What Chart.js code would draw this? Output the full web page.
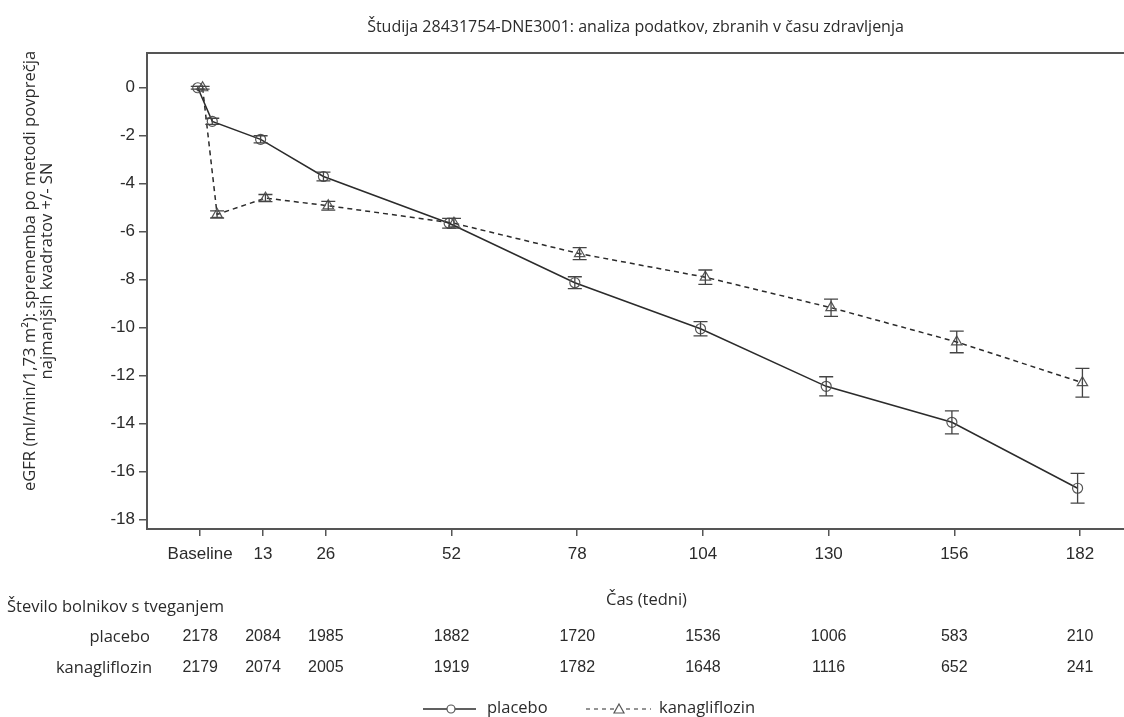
<!DOCTYPE html>
<html><head><meta charset="utf-8">
<script src="https://cdn.jsdelivr.net/npm/chart.js@4.4.1/dist/chart.umd.min.js"></script>
<style>html,body{margin:0;padding:0;background:#fff}#wrap{width:1124px;height:717px;position:relative}</style>
</head><body><div id="wrap"><canvas id="c" width="1124" height="717"></canvas></div>
<script>
const weeks = [0, 3, 13, 26, 52, 78, 104, 130, 156, 182];
const tickWeeks = [0, 13, 26, 52, 78, 104, 130, 156, 182];
const tickLabels = ['Baseline', '13', '26', '52', '78', '104', '130', '156', '182'];
const yTicks = [-18, -16, -14, -12, -10, -8, -6, -4, -2, 0];
const placeboMean = [0, -1.4, -2.15, -3.7, -5.65, -8.13, -10.05, -12.45, -13.95, -16.7];
const placeboSE = [0.06, 0.13, 0.15, 0.18, 0.2, 0.25, 0.3, 0.4, 0.48, 0.62];
const kanaMean = [0, -5.28, -4.6, -4.92, -5.65, -6.92, -7.9, -9.17, -10.6, -12.3];
const kanaSE = [0.06, 0.15, 0.15, 0.18, 0.2, 0.25, 0.3, 0.36, 0.45, 0.6];
const riskWeeks = [0, 13, 26, 52, 78, 104, 130, 156, 182];
const placeboRisk = [2178, 2084, 1985, 1882, 1720, 1536, 1006, 583, 210];
const kanaRisk = [2179, 2074, 2005, 1919, 1782, 1648, 1116, 652, 241];
const seriesNames = ['placebo', 'kanagliflozin'];
const yTitle = ['eGFR (ml/min/1,73 m²): sprememba po metodi povprečja', 'najmanjših kvadratov +/- SN'];

const DODGE = 0.5;
const ARIAL = '"Liberation Sans", Arial, sans-serif';
const HUMAN = '"Open Sans", "Noto Sans", sans-serif';
const INK = '#2b2b2b';
const GREY = '#555';

const pts = (m, off) => weeks.map((w, i) => ({x: w + off, y: m[i]}));

const errorBars = {
  id: 'errorBars',
  afterDatasetsDraw(chart) {
    const ctx = chart.ctx, xs = chart.scales.x, ys = chart.scales.y;
    const ses = [placeboSE, kanaSE];
    ctx.save();
    ctx.strokeStyle = '#444';
    ctx.lineWidth = 1.3;
    chart.data.datasets.forEach((ds, di) => {
      ds.data.forEach((p, i) => {
        const px = xs.getPixelForValue(p.x);
        const t = ys.getPixelForValue(p.y + ses[di][i]);
        const b = ys.getPixelForValue(p.y - ses[di][i]);
        ctx.beginPath();
        ctx.moveTo(px, t); ctx.lineTo(px, b);
        ctx.moveTo(px - 7, t); ctx.lineTo(px + 7, t);
        ctx.moveTo(px - 7, b); ctx.lineTo(px + 7, b);
        ctx.stroke();
      });
    });
    ctx.restore();
  }
};

const extras = {
  id: 'extras',
  afterDraw(chart) {
    const ctx = chart.ctx, xs = chart.scales.x, a = chart.chartArea;
    ctx.save();
    // frame top / right
    ctx.strokeStyle = GREY; ctx.lineWidth = 2;
    ctx.beginPath();
    ctx.moveTo(a.left, a.top); ctx.lineTo(a.right + 2, a.top);
    ctx.stroke();
    // y-axis title
    ctx.fillStyle = INK; ctx.textBaseline = 'middle'; ctx.textAlign = 'center';
    ctx.font = '16.6px ' + HUMAN;
    ctx.save();
    ctx.translate(30, 271); ctx.rotate(-Math.PI / 2);
    ctx.fillText(yTitle[0], 0, 0);
    ctx.fillText(yTitle[1], 0, 17);
    ctx.restore();
    // x-axis title
    ctx.font = '16.5px ' + HUMAN;
    ctx.fillText('Čas (tedni)', (a.left + a.right) / 2 + 11, 600);
    // risk table
    ctx.textAlign = 'left';
    ctx.fillText('Število bolnikov s tveganjem', 7, 607);
    ctx.textAlign = 'right';
    ctx.fillText(seriesNames[0], 150, 637);
    ctx.fillText(seriesNames[1], 152, 668);
    ctx.font = '16px ' + ARIAL; ctx.textAlign = 'center';
    riskWeeks.forEach((w, i) => {
      const px = xs.getPixelForValue(w);
      ctx.fillText(String(placeboRisk[i]), px, 637);
      ctx.fillText(String(kanaRisk[i]), px, 668);
    });
    // legend
    const ly = 709;
    ctx.strokeStyle = INK; ctx.lineWidth = 1.3;
    ctx.beginPath(); ctx.moveTo(423, ly); ctx.lineTo(476, ly); ctx.stroke();
    ctx.fillStyle = '#fff'; ctx.strokeStyle = GREY; ctx.lineWidth = 1.2;
    ctx.beginPath(); ctx.arc(451, ly, 4, 0, Math.PI * 2); ctx.fill(); ctx.stroke();
    ctx.setLineDash([4, 4]); ctx.strokeStyle = INK;
    ctx.beginPath(); ctx.moveTo(586, ly); ctx.lineTo(651, ly); ctx.stroke();
    ctx.setLineDash([]);
    ctx.strokeStyle = GREY; ctx.fillStyle = '#fff';
    ctx.beginPath(); ctx.moveTo(619, ly - 5); ctx.lineTo(624, ly + 4); ctx.lineTo(614, ly + 4); ctx.closePath(); ctx.fill(); ctx.stroke();
    ctx.fillStyle = INK; ctx.font = '16.5px ' + HUMAN; ctx.textAlign = 'left';
    ctx.fillText(seriesNames[0], 487, ly - 1);
    ctx.fillText(seriesNames[1], 659, ly - 1);
    ctx.restore();
  }
};

new Chart(document.getElementById('c'), {
  type: 'line',
  data: {
    datasets: [
      {label: seriesNames[0], data: pts(placeboMean, -DODGE), borderColor: INK, borderWidth: 1.5,
       pointStyle: 'circle', pointRadius: 5, pointBorderColor: GREY, pointBackgroundColor: 'rgba(255,255,255,0)', pointBorderWidth: 1.2, tension: 0},
      {label: seriesNames[1], data: pts(kanaMean, DODGE), borderColor: INK, borderWidth: 1.5, borderDash: [5, 4],
       pointStyle: 'triangle', pointRadius: 6, pointBorderColor: GREY, pointBackgroundColor: 'rgba(255,255,255,0)', pointBorderWidth: 1.2, tension: 0}
    ]
  },
  options: {
    responsive: false, animation: false, devicePixelRatio: 1,
    layout: {autoPadding: false, padding: {left: 0, right: 0, top: 0, bottom: 0}},
    plugins: {
      legend: {display: false}, tooltip: {enabled: false},
      title: {display: true, fullSize: false, text: 'Študija 28431754-DNE3001: analiza podatkov, zbranih v času zdravljenja',
        color: INK, font: {family: HUMAN, size: 16, weight: 'normal', lineHeight: 1.2}, padding: {top: 18, bottom: 15.8}}
    },
    scales: {
      x: {type: 'linear', min: -11, max: 191.1,
        afterBuildTicks: s => { s.ticks = tickWeeks.map(v => ({value: v})); },
        afterFit: s => { s.height = 188; },
        ticks: {autoSkip: false, maxRotation: 0, color: INK, padding: 8, font: {family: ARIAL, size: 17},
          callback: v => tickLabels[tickWeeks.indexOf(v)]},
        grid: {drawOnChartArea: false, drawTicks: true, tickLength: 7, color: GREY, lineWidth: 1.5},
        border: {display: true, color: GREY, width: 2}
      },
      y: {type: 'linear', min: -18.4, max: 1.45,
        afterBuildTicks: s => { s.ticks = yTicks.map(v => ({value: v})); },
        afterFit: s => { s.width = 147; },
        ticks: {color: INK, padding: 4, font: {family: ARIAL, size: 17}},
        grid: {drawOnChartArea: false, drawTicks: true, tickLength: 8, color: GREY, lineWidth: 1.5},
        border: {display: true, color: GREY, width: 2}
      }
    }
  },
  plugins: [errorBars, extras]
});
</script></body></html>
